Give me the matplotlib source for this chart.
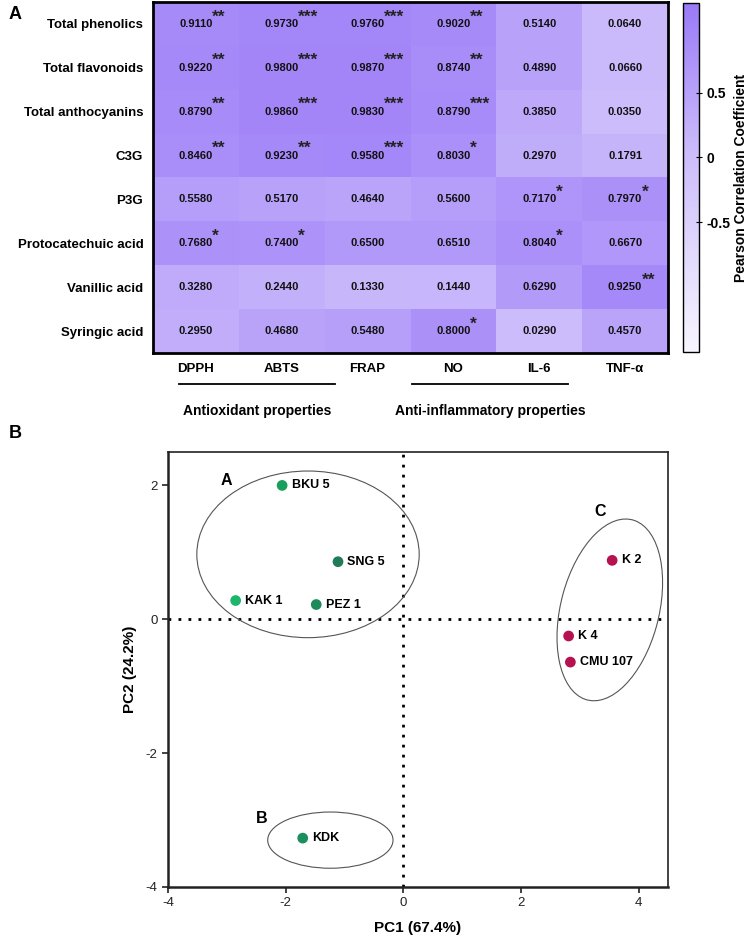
import matplotlib
matplotlib.use("Agg")
import matplotlib.pyplot as plt
import matplotlib.transforms as mtransforms
from matplotlib.colors import LinearSegmentedColormap, Normalize
from matplotlib.patches import Ellipse
import numpy as np

plt.rcParams["font.family"] = ["Liberation Sans", "DejaVu Sans"]
plt.rcParams["axes.unicode_minus"] = False

# Panel A: correlacion de Pearson
compuestos = ["Total phenolics", "Total flavonoids", "Total anthocyanins", "C3G",
              "P3G", "Protocatechuic acid", "Vanillic acid", "Syringic acid"]
ensayos = ["DPPH", "ABTS", "FRAP", "NO", "IL-6", "TNF-α"]
correlacion = [
    [0.9110, 0.9730, 0.9760, 0.9020, 0.5140, 0.0640],
    [0.9220, 0.9800, 0.9870, 0.8740, 0.4890, 0.0660],
    [0.8790, 0.9860, 0.9830, 0.8790, 0.3850, 0.0350],
    [0.8460, 0.9230, 0.9580, 0.8030, 0.2970, 0.1791],
    [0.5580, 0.5170, 0.4640, 0.5600, 0.7170, 0.7970],
    [0.7680, 0.7400, 0.6500, 0.6510, 0.8040, 0.6670],
    [0.3280, 0.2440, 0.1330, 0.1440, 0.6290, 0.9250],
    [0.2950, 0.4680, 0.5480, 0.8000, 0.0290, 0.4570],
]
estrellas = [
    ["**", "***", "***", "**", "", ""],
    ["**", "***", "***", "**", "", ""],
    ["**", "***", "***", "***", "", ""],
    ["**", "**", "***", "*", "", ""],
    ["", "", "", "", "*", "*"],
    ["*", "*", "", "", "*", ""],
    ["", "", "", "", "", "**"],
    ["", "", "", "*", "", ""],
]
grupos = ["Antioxidant properties", "Anti-inflammatory properties"]
cbar_ticks = [-0.5, 0, 0.5]

# Panel B: PCA
muestras = ["BKU 5", "SNG 5", "KAK 1", "PEZ 1", "KDK", "K 2", "K 4", "CMU 107"]
pc1 = [-2.06, -1.11, -2.85, -1.48, -1.71, 3.55, 2.81, 2.84]
pc2 = [2.00, 0.86, 0.28, 0.22, -3.27, 0.88, -0.25, -0.64]
colores = ["#1a9e5e", "#217a58", "#1db56b", "#1e8a5a", "#1b8f5f",
           "#b5124f", "#b5124f", "#b5124f"]

fig = plt.figure(figsize=(7.49, 9.39), dpi=100)

cmap = LinearSegmentedColormap.from_list(
    "lila", [(0, "#f7f5fe"), (0.57, "#ccbcfb"), (1, "#9a7af7")])
norm = Normalize(vmin=-1.5, vmax=1.19)

ax = fig.add_axes([0.2043, 0.6241, 0.6876, 0.3738])
datos = np.array(correlacion)
mesh = ax.pcolormesh(np.arange(len(ensayos) + 1) - 0.5,
                     np.arange(len(compuestos) + 1) - 0.5,
                     datos, cmap=cmap, norm=norm)
ax.set_xlim(-0.5, len(ensayos) - 0.5)
ax.set_ylim(len(compuestos) - 0.5, -0.5)
for i in range(len(compuestos)):
    for j in range(len(ensayos)):
        ax.text(j, i, f"{correlacion[i][j]:.4f}", ha="center", va="center",
                fontsize=8, fontweight="bold", color="#111111")
        if estrellas[i][j]:
            ax.text(j + 0.19, i - 0.06, estrellas[i][j], ha="left",
                    va="baseline", fontsize=12.5, fontweight="bold",
                    color="#222222")
ax.set_xticks(range(len(ensayos)))
ax.set_xticklabels(ensayos, fontsize=9.5, fontweight="bold")
ax.set_yticks(range(len(compuestos)))
ax.set_yticklabels(compuestos, fontsize=9.5, fontweight="bold")
ax.tick_params(length=0, pad=7)
for s in ax.spines.values():
    s.set_linewidth(2)

trans = mtransforms.blended_transform_factory(ax.transData, ax.transAxes)
for (x0, x1), nombre in zip([(-0.2, 1.62), (2.52, 4.34)], grupos):
    ax.plot([x0, x1], [-0.088, -0.088], color="black", lw=1.3,
            transform=trans, clip_on=False)
    ax.text((x0 + x1) / 2, -0.165, nombre, transform=trans, ha="center",
            va="center", fontsize=10, fontweight="bold")

cax = fig.add_axes([0.912, 0.6252, 0.0214, 0.3716])
cb = fig.colorbar(mesh, cax=cax, ticks=cbar_ticks)
cb.ax.set_yticklabels(["-0.5", "0", "0.5"], fontsize=10, fontweight="bold")
cb.ax.tick_params(length=4, direction="inout", width=0.8)
cb.outline.set_linewidth(1)
cb.set_label("Pearson Correlation Coefficient", fontsize=10,
             fontweight="bold", labelpad=2)

fig.text(0.012, 0.985, "A", fontsize=13, fontweight="bold", va="center")
fig.text(0.012, 0.538, "B", fontsize=13, fontweight="bold", va="center")

# PCA
ax2 = fig.add_axes([0.2243, 0.0554, 0.6676, 0.4633])
ax2.axhline(0, color="black", lw=2, ls=(0, (1, 2.6)), zorder=1)
ax2.axvline(0, color="black", lw=2, ls=(0, (1, 2.6)), zorder=1)
ax2.scatter(pc1, pc2, s=45, c=colores, zorder=3)
for x, y, nombre in zip(pc1, pc2, muestras):
    ax2.text(x + 0.16, y, nombre, fontsize=9, fontweight="bold",
             va="center", ha="left")

for (cx, cy, w, h, ang), letra, (lx, ly) in zip(
        [(-1.62, 0.97, 3.78, 2.49, 0), (-1.24, -3.30, 2.13, 0.84, 0),
         (3.51, 0.14, 2.80, 1.66, 72.4)],
        ["A", "B", "C"], [(-3.01, 2.08), (-2.41, -2.97), (3.35, 1.61)]):
    ax2.add_patch(Ellipse((cx, cy), w, h, angle=ang, fill=False,
                          edgecolor="#555555", lw=0.8))
    ax2.text(lx, ly, letra, fontsize=11.5, fontweight="bold",
             ha="center", va="center")

ax2.set_xlim(-4, 4.5)
ax2.set_ylim(-4, 2.5)
ax2.set_xticks([-4, -2, 0, 2, 4])
ax2.set_yticks([-4, -2, 0, 2])
ax2.tick_params(labelsize=9.5, length=4, width=1.2, colors="#222222")
ax2.set_xlabel("PC1 (67.4%)", fontsize=11, fontweight="bold", labelpad=8)
ax2.set_ylabel("PC2 (24.2%)", fontsize=11, fontweight="bold", labelpad=6)
for s in ax2.spines.values():
    s.set_linewidth(1.2)
    s.set_color("#222222")
ax2.spines["bottom"].set_linewidth(1.8)
ax2.spines["left"].set_linewidth(1.8)

fig.savefig("out.png", dpi=100)
